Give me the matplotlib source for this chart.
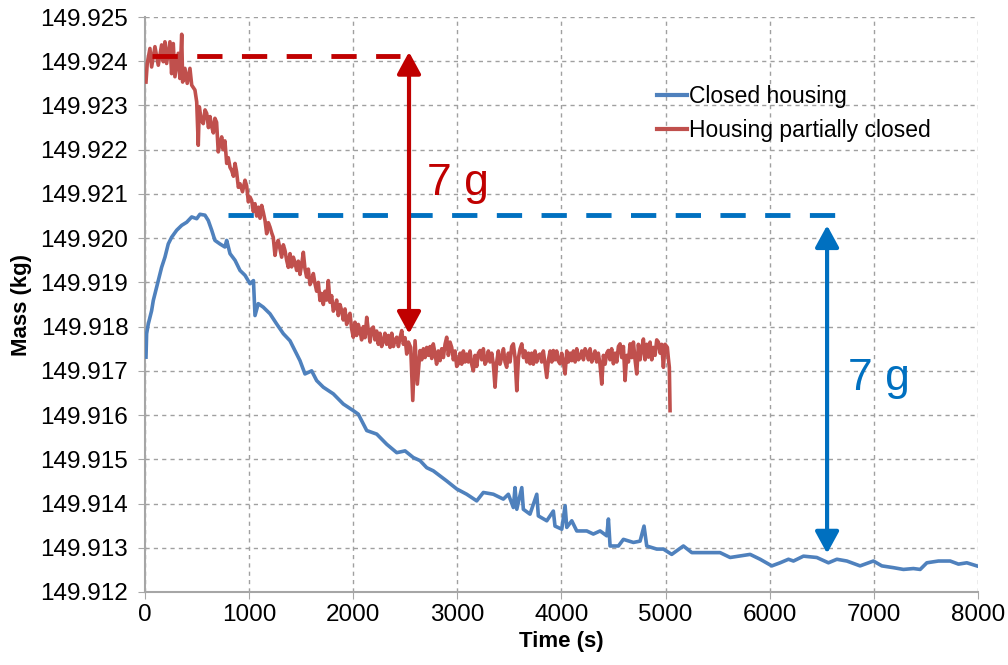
import matplotlib.pyplot as plt
from matplotlib.patches import FancyArrowPatch

plt.rcParams['font.family'] = ['Liberation Sans', 'DejaVu Sans']

# housing partially closed (red)
red_t = [10, 22, 48, 64, 96, 128, 160, 176, 192, 208, 240, 256, 272, 288, 320, 336,
         353, 362, 384, 406, 432, 449, 480, 497, 512, 522, 560, 593, 641, 672, 704,
         737, 785, 833, 865, 913, 961, 1009, 1121, 1153, 1201, 1232, 1249, 1280, 1313,
         1345, 1377, 1425, 1457, 1521, 1553, 1601, 1633, 1681, 1761, 1777, 1825, 1890,
         1953, 2001, 2065, 2130, 2193, 2289, 2354, 2418, 2466, 2514, 2552, 2572, 2594,
         2616, 2642, 2706, 2769, 2834, 2898, 2946, 3010, 3090, 3154, 3218, 3282, 3362,
         3427, 3474, 3538, 3571, 3619, 3698, 3794, 3859, 3922, 3986, 4035, 4099, 4179,
         4243, 4306, 4387, 4450, 4499, 4563, 4611, 4659, 4723, 4787, 4835, 4883, 4931,
         4979, 5017, 5036, 5043]
red_m = [149.92353, 149.92395, 149.92429, 149.92387, 149.92433, 149.92391, 149.92437,
         149.92399, 149.92444, 149.92395, 149.92444, 149.92372, 149.92440, 149.92365,
         149.92418, 149.92361, 149.92461, 149.92353, 149.92384, 149.92350, 149.92384,
         149.92346, 149.92335, 149.92308, 149.92210, 149.92297, 149.92259, 149.92282,
         149.92252, 149.92271, 149.92195, 149.92229, 149.92169, 149.92153, 149.92169,
         149.92123, 149.92131, 149.92093, 149.92074, 149.92040, 149.92025, 149.92002,
         149.91961, 149.91995, 149.91957, 149.91972, 149.91934, 149.91957, 149.91927,
         149.91968, 149.91912, 149.91904, 149.91897, 149.91859, 149.91904, 149.91855,
         149.91844, 149.91836, 149.91821, 149.91776, 149.91791, 149.91821, 149.91799,
         149.91768, 149.91753, 149.91776, 149.91791, 149.91738, 149.91753, 149.91633,
         149.91768, 149.91670, 149.91746, 149.91753, 149.91761, 149.91723, 149.91776,
         149.91753, 149.91716, 149.91738, 149.91700, 149.91746, 149.91723, 149.91663,
         149.91731, 149.91708, 149.91761, 149.91655, 149.91761, 149.91716, 149.91738,
         149.91685, 149.91746, 149.91716, 149.91693, 149.91723, 149.91731, 149.91742,
         149.91731, 149.91670, 149.91746, 149.91716, 149.91761, 149.91678, 149.91761,
         149.91693, 149.91772, 149.91731, 149.91753, 149.91765, 149.91708, 149.91753,
         149.91708, 149.91610]

# in-between samples of the red trace (the jitter between the readings above)
red_t_fill = [540, 577, 610, 625, 657, 688, 720, 752, 768, 800, 817, 850, 880, 897, 937,
              977, 993, 1025, 1041, 1057, 1073, 1089, 1105, 1137, 1169, 1185, 1217, 1265,
              1297, 1329, 1361, 1393, 1409, 1441, 1473, 1489, 1505, 1537, 1569, 1585,
              1617, 1649, 1665, 1697, 1713, 1729, 1745, 1793, 1809, 1841, 1857, 1873,
              1905, 1921, 1937, 1969, 1985, 2017, 2033, 2049, 2081, 2097, 2113, 2146,
              2162, 2177, 2209, 2225, 2241, 2257, 2273, 2305, 2321, 2337, 2370, 2386,
              2402, 2434, 2450, 2482, 2498, 2530, 2658, 2674, 2690, 2722, 2738, 2754,
              2785, 2801, 2817, 2850, 2866, 2882, 2914, 2930, 2962, 2978, 2994, 3026,
              3042, 3058, 3074, 3106, 3122, 3138, 3170, 3186, 3202, 3234, 3250, 3266,
              3298, 3314, 3330, 3346, 3378, 3394, 3410, 3443, 3458, 3490, 3506, 3522,
              3554, 3587, 3603, 3635, 3651, 3667, 3683, 3714, 3730, 3746, 3762, 3778,
              3810, 3826, 3842, 3875, 3891, 3907, 3938, 3954, 3970, 4002, 4018, 4051,
              4067, 4083, 4115, 4131, 4147, 4163, 4195, 4211, 4227, 4259, 4275, 4291,
              4322, 4338, 4354, 4370, 4403, 4419, 4435, 4466, 4482, 4515, 4531, 4547,
              4579, 4595, 4627, 4643, 4675, 4691, 4707, 4739, 4755, 4771, 4803, 4819,
              4851, 4867, 4899, 4915, 4947, 4963, 4995, 5026]
red_m_fill = [149.92268, 149.92290, 149.92250, 149.92275, 149.92238, 149.92262, 149.92214,
              149.92200, 149.92220, 149.92182, 149.92160, 149.92140, 149.92150, 149.92115,
              149.92105, 149.92118, 149.92082, 149.92085, 149.92060, 149.92078, 149.92050,
              149.92070, 149.92045, 149.92058, 149.92010, 149.92035, 149.92012, 149.91985,
              149.91975, 149.91985, 149.91950, 149.91965, 149.91935, 149.91945, 149.91948,
              149.91918, 149.91940, 149.91930, 149.91930, 149.91895, 149.91920, 149.91880,
              149.91900, 149.91875, 149.91850, 149.91880, 149.91860, 149.91870, 149.91835,
              149.91860, 149.91825, 149.91850, 149.91815, 149.91840, 149.91805, 149.91830,
              149.91795, 149.91810, 149.91780, 149.91805, 149.91770, 149.91800, 149.91775,
              149.91790, 149.91765, 149.91795, 149.91770, 149.91790, 149.91760, 149.91785,
              149.91755, 149.91785, 149.91760, 149.91780, 149.91785, 149.91755, 149.91770,
              149.91755, 149.91775, 149.91760, 149.91775, 149.91765, 149.91725, 149.91750,
              149.91730, 149.91735, 149.91755, 149.91728, 149.91740, 149.91715, 149.91745,
              149.91750, 149.91730, 149.91760, 149.91735, 149.91765, 149.91725, 149.91745,
              149.91710, 149.91740, 149.91715, 149.91745, 149.91720, 149.91720, 149.91745,
              149.91715, 149.91735, 149.91710, 149.91740, 149.91725, 149.91750, 149.91715,
              149.91745, 149.91720, 149.91740, 149.91715, 149.91720, 149.91745, 149.91715,
              149.91750, 149.91720, 149.91740, 149.91720, 149.91755, 149.91730, 149.91730,
              149.91750, 149.91730, 149.91745, 149.91720, 149.91740, 149.91740, 149.91715,
              149.91745, 149.91720, 149.91735, 149.91720, 149.91745, 149.91715, 149.91725,
              149.91745, 149.91720, 149.91725, 149.91745, 149.91722, 149.91740, 149.91720,
              149.91745, 149.91720, 149.91740, 149.91745, 149.91720, 149.91750, 149.91725,
              149.91745, 149.91725, 149.91750, 149.91725, 149.91750, 149.91720, 149.91745,
              149.91720, 149.91740, 149.91715, 149.91735, 149.91715, 149.91740, 149.91725,
              149.91750, 149.91740, 149.91720, 149.91755, 149.91730, 149.91755, 149.91735,
              149.91720, 149.91730, 149.91765, 149.91725, 149.91760, 149.91725, 149.91750,
              149.91725, 149.91760, 149.91765, 149.91725, 149.91735, 149.91770, 149.91740,
              149.91760, 149.91760, 149.91730]

# closed housing (blue)
blue_t = [10, 16, 32, 64, 80, 96, 128, 160, 192, 224, 256, 305, 353, 401, 449, 497,
          528, 576, 608, 641, 672, 720, 768, 785, 817, 865, 913, 961, 1009, 1042, 1057,
          1088, 1136, 1201, 1265, 1329, 1393, 1489, 1537, 1601, 1649, 1713, 1809, 1905,
          2001, 2049, 2130, 2226, 2322, 2418, 2498, 2577, 2642, 2706, 2769, 2898, 2994,
          3090, 3186, 3250, 3346, 3442, 3490, 3538, 3554, 3571, 3619, 3634, 3698, 3763,
          3778, 3859, 3922, 3938, 4003, 4035, 4051, 4099, 4147, 4243, 4306, 4371, 4435,
          4451, 4467, 4547, 4595, 4691, 4755, 4793, 4819, 4915, 4979, 5059, 5171, 5252,
          5331, 5523, 5620, 5812, 5908, 6020, 6100, 6180, 6228, 6324, 6452, 6564, 6645,
          6741, 6868, 6996, 7077, 7188, 7284, 7380, 7445, 7509, 7620, 7733, 7813, 7893,
          7989]
blue_m = [149.91731, 149.91784, 149.91806, 149.91836, 149.91859, 149.91874, 149.91904,
          149.91934, 149.91957, 149.91987, 149.92002, 149.92018, 149.92029, 149.92036,
          149.92048, 149.92044, 149.92054, 149.92052, 149.92040, 149.92018, 149.91995,
          149.91987, 149.91980, 149.91995, 149.91965, 149.91950, 149.91927, 149.91916,
          149.91897, 149.91904, 149.91825, 149.91852, 149.91844, 149.91829, 149.91806,
          149.91784, 149.91768, 149.91723, 149.91693, 149.91700, 149.91678, 149.91663,
          149.91648, 149.91625, 149.91610, 149.91602, 149.91565, 149.91557, 149.91534,
          149.91515, 149.91519, 149.91504, 149.91497, 149.91481, 149.91474, 149.91451,
          149.91433, 149.91421, 149.91406, 149.91425, 149.91421, 149.91410, 149.91421,
          149.91391, 149.91436, 149.91387, 149.91436, 149.91387, 149.91376, 149.91421,
          149.91372, 149.91361, 149.91383, 149.91349, 149.91342, 149.91395, 149.91346,
          149.91361, 149.91338, 149.91338, 149.91331, 149.91338, 149.91327, 149.91365,
          149.91304, 149.91304, 149.91319, 149.91312, 149.91315, 149.91349, 149.91304,
          149.91297, 149.91297, 149.91285, 149.91304, 149.91289, 149.91289, 149.91289,
          149.91278, 149.91285, 149.91274, 149.91259, 149.91266, 149.91274, 149.91270,
          149.91281, 149.91278, 149.91266, 149.91274, 149.91270, 149.91259, 149.91270,
          149.91259, 149.91255, 149.91251, 149.91253, 149.91251, 149.91266, 149.91270,
          149.91270, 149.91263, 149.91266, 149.91259]

# reference levels and the arrows marking the drop
red_level, red_level_t = 149.92412, (67, 2450)
blue_level, blue_level_t = 149.92052, (797, 6628)
red_arrow = (2536, 149.92421, 149.91784)
blue_arrow = (6551, 149.92029, 149.91287)

red = sorted(zip(red_t + red_t_fill, red_m + red_m_fill))

fig = plt.figure(figsize=(10.08, 6.65), dpi=100)
ax = fig.add_axes([0.1438, 0.1098, 0.8264, 0.8646])

ax.plot(blue_t, blue_m, color='#4F81BD', lw=2.6, label='Closed housing', zorder=3)
ax.plot([p[0] for p in red], [p[1] for p in red], color='#C0504D', lw=2.6,
        label='Housing partially closed', zorder=3)

ax.plot(red_level_t, [red_level, red_level], color='#C00000', lw=3.5,
        dashes=(5.2, 4), zorder=4)
ax.plot(blue_level_t, [blue_level, blue_level], color='#0070C0', lw=3.5,
        dashes=(5.2, 4), zorder=4)

for (xa, y0, y1), c in [(red_arrow, '#C00000'), (blue_arrow, '#0070C0')]:
    ax.add_patch(FancyArrowPatch((xa, y0), (xa, y1),
                                 arrowstyle='<|-|>,head_length=0.55,head_width=0.3',
                                 mutation_scale=24, color=c, lw=3, shrinkA=0, shrinkB=0,
                                 zorder=5))

ax.text(2710, 149.92124, '7 g', color='#C00000', fontsize=32, va='center', ha='left')
ax.text(6753, 149.91682, '7 g', color='#0070C0', fontsize=32, va='center', ha='left')

ax.set_xlim(0, 8000)
ax.set_ylim(149.912, 149.925)
ax.set_xticks(range(0, 8001, 1000))
ax.set_yticks([149.912 + i * 0.001 for i in range(14)])
ax.set_yticklabels(['%.3f' % (149.912 + i * 0.001) for i in range(14)])
ax.tick_params(labelsize=17.5, length=5, color='#A6A6A6')
ax.tick_params(axis='y', pad=7)

ax.grid(True, color='#A0A0A0', lw=1, dashes=(3, 3))
ax.set_axisbelow(True)
for s in ['top', 'right']:
    ax.spines[s].set_visible(False)
for s in ['left', 'bottom']:
    ax.spines[s].set_color('#A6A6A6')
    ax.spines[s].set_linewidth(1.5)

ax.set_xlabel('Time (s)', fontsize=16, fontweight='bold', labelpad=4)
ax.set_ylabel('Mass (kg)', fontsize=16, fontweight='bold', labelpad=6)

leg = ax.legend(loc='upper left', bbox_to_anchor=(0.59, 0.917), frameon=False,
                fontsize=16.5, handlelength=1.3, handletextpad=0.1, labelspacing=0.45)
for line in leg.get_lines():
    line.set_linewidth(3)

fig.savefig('out.png', dpi=100)
